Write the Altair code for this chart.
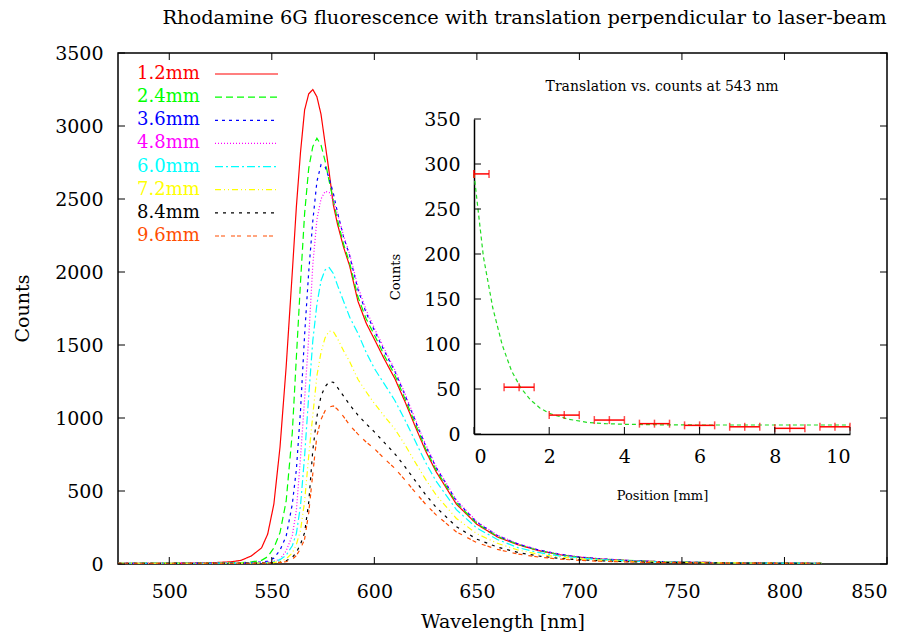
import altair as alt
import pandas as pd

# ---------------- data ----------------
series = ["1.2mm", "2.4mm", "3.6mm", "4.8mm", "6.0mm", "7.2mm", "8.4mm", "9.6mm"]
colors = ["#ff0000", "#00ff00", "#0000ff", "#ff00ff", "#00ffff", "#ffff00", "#000000", "#ff4d00"]
dashes = [[1, 0], [7, 4], [3, 4], [1, 2], [8, 3, 2, 3], [6, 3, 1, 3, 1, 3], [3, 5], [4, 2, 4, 6]]

wavelength = [475, 500, 520, 530, 535, 540, 545, 548, 551, 554,
              557, 560, 562, 564, 566, 568, 570, 572, 574, 576,
              578, 580, 582, 585, 588, 592, 596, 600, 605, 610,
              615, 620, 625, 630, 640, 650, 660, 670, 680, 690,
              700, 710, 720, 730, 740, 750, 760, 780, 800, 818]

c_12 = [5, 5, 8, 15, 25, 55, 110, 205, 410, 800,
        1350, 2000, 2450, 2820, 3110, 3220, 3250, 3200, 3080, 2880,
        2680, 2460, 2330, 2170, 2040, 1800, 1650, 1540, 1400, 1270,
        1110, 940, 775, 635, 410, 272, 185, 132, 92, 64,
        46, 34, 26, 20, 16, 13, 11, 8, 6, 5]
c_24 = [5, 6, 6, 8, 10, 14, 25, 50, 110, 215,
        430, 900, 1420, 1930, 2400, 2710, 2860, 2916, 2870, 2760,
        2620, 2490, 2360, 2190, 2060, 1830, 1680, 1570, 1425, 1295,
        1130, 960, 790, 648, 420, 278, 190, 135, 94, 66,
        47, 35, 27, 21, 16, 13, 11, 8, 6, 5]
c_36 = [5, 5, 6, 7, 8, 10, 14, 20, 40, 95,
        190, 410, 650, 1050, 1570, 2000, 2350, 2620, 2735, 2720,
        2640, 2540, 2410, 2240, 2110, 1880, 1720, 1600, 1455, 1320,
        1155, 980, 810, 665, 432, 286, 195, 138, 96, 68,
        48, 36, 27, 21, 16, 13, 11, 8, 6, 5]
c_48 = [5, 5, 6, 6, 7, 8, 10, 13, 20, 32,
        90, 195, 370, 730, 1130, 1550, 2050, 2360, 2500, 2552,
        2545, 2490, 2400, 2250, 2120, 1900, 1740, 1615, 1470, 1330,
        1165, 990, 820, 672, 438, 290, 198, 140, 97, 68,
        49, 36, 27, 21, 16, 13, 11, 8, 6, 5]
c_60 = [5, 5, 5, 6, 6, 7, 8, 10, 15, 30,
        60, 125, 210, 400, 740, 1150, 1530, 1780, 1940, 2015,
        2030, 1990, 1910, 1800, 1690, 1580, 1450, 1340, 1230, 1120,
        985, 840, 695, 570, 372, 246, 168, 112, 79, 56,
        41, 30, 23, 18, 14, 12, 10, 7, 6, 5]
c_72 = [5, 5, 5, 5, 6, 6, 7, 8, 10, 18,
        35, 75, 135, 230, 430, 740, 1020, 1290, 1450, 1550,
        1595, 1592, 1545, 1460, 1385, 1265, 1180, 1100, 1010, 925,
        815, 695, 580, 475, 312, 207, 142, 96, 67, 48,
        35, 26, 20, 16, 13, 11, 9, 7, 5, 5]
c_84 = [5, 5, 5, 5, 5, 6, 6, 7, 8, 12,
        22, 45, 80, 135, 215, 420, 780, 1010, 1150, 1215,
        1248, 1245, 1210, 1150, 1090, 1020, 960, 905, 830, 755,
        665, 570, 475, 390, 256, 170, 116, 79, 55, 39,
        29, 22, 17, 13, 11, 9, 8, 6, 5, 5]
c_96 = [5, 5, 5, 5, 5, 5, 6, 6, 7, 10,
        16, 32, 58, 105, 170, 350, 620, 880, 990, 1050,
        1075, 1082, 1060, 1010, 950, 890, 835, 790, 720, 655,
        575, 490, 410, 338, 220, 146, 100, 68, 48, 34,
        25, 19, 15, 12, 10, 8, 7, 6, 5, 5]
spectra = [c_12, c_24, c_36, c_48, c_60, c_72, c_84, c_96]

x_ticks = [500, 550, 600, 650, 700, 750, 800, 850]
y_ticks = [0, 500, 1000, 1500, 2000, 2500, 3000, 3500]

# inset: measured counts at 543 nm with x error
pos = [0.0, 1.2, 2.4, 3.6, 4.8, 6.0, 7.2, 8.4, 9.6]
pos_counts = [289, 52, 21, 15.5, 11.5, 9.6, 8, 6.3, 8]
pos_err = [0.4, 0.4, 0.4, 0.4, 0.4, 0.4, 0.4, 0.4, 0.4]
# inset: fitted curve
fit_pos = [0.0, 0.25, 0.5, 0.75, 1.0, 1.25, 1.5, 1.75, 2.0, 2.5, 3.0, 3.5, 4.0, 5.0, 6.0, 7.0, 8.0, 9.0, 10.0]
fit_counts = [289, 197, 140, 99, 70, 51, 38, 29, 23, 16.5, 13, 11.5, 10.8, 10.2, 10, 10, 10, 10, 10]
inset_x_ticks = [0, 2, 4, 6, 8, 10]
inset_y_ticks = [0, 50, 100, 150, 200, 250, 300, 350]

main_title = "Rhodamine 6G fluorescence with translation perpendicular to laser-beam"
inset_title = "Translation vs. counts at 543 nm"

# ---------------- tables ----------------
rows = []
for name, vals in zip(series, spectra):
    for w, c in zip(wavelength, vals):
        rows.append({"wavelength": w, "counts": c, "name": name})
df = pd.DataFrame(rows)

err_df = pd.DataFrame({"pos": pos, "counts": pos_counts,
                       "lo": [p - e for p, e in zip(pos, pos_err)],
                       "hi": [p + e for p, e in zip(pos, pos_err)]})
cap_df = pd.DataFrame({"pos": err_df["lo"].tolist() + err_df["hi"].tolist() + pos,
                       "counts": pos_counts * 3})
fit_df = pd.DataFrame({"pos": fit_pos, "counts": fit_counts})
leg_df = pd.DataFrame({"name": series})
xt_df = pd.DataFrame({"wavelength": x_ticks})
yt_df = pd.DataFrame({"counts": y_ticks})
ixt_df = pd.DataFrame({"pos": inset_x_ticks})
iyt_df = pd.DataFrame({"counts": inset_y_ticks})

# ---------------- geometry ----------------
W, H = 769, 511
FONT = "DejaVu Serif"
TK = 7  # tick length (pixels)
# inset plot rectangle inside the main plot area (pixels)
IX0, IX1, IY0, IY1 = 356, 732, 66, 381

color_enc = alt.Color("name:N", scale=alt.Scale(domain=series, range=colors), legend=None)
dash_enc = alt.StrokeDash("name:N", scale=alt.Scale(domain=series, range=dashes), legend=None)

xs = alt.Scale(domain=[475, 850], nice=False, zero=False)
ys = alt.Scale(domain=[0, 3500], nice=False, zero=False)

lines = alt.Chart(df).mark_line(strokeWidth=1.2, clip=True).encode(
    x=alt.X("wavelength:Q", scale=xs,
            axis=alt.Axis(orient="bottom", values=x_ticks, ticks=False, domain=False, grid=False,
                          format="d", labelPadding=18, labelFontSize=19, title="Wavelength [nm]",
                          titleFontSize=19, titleBaseline="alphabetic", titleY=63)),
    y=alt.Y("counts:Q", scale=ys,
            axis=alt.Axis(orient="left", values=y_ticks, ticks=False, domain=False, grid=False,
                          format="d", labelPadding=15, labelFontSize=19, title="Counts",
                          titleFontSize=19, titleBaseline="middle", titleX=-96, titleY=255)),
    color=color_enc,
    strokeDash=dash_enc,
)

rule_style = dict(color="black", strokeWidth=1)
tick_bottom = alt.Chart(xt_df).mark_rule(**rule_style).encode(
    x=alt.X("wavelength:Q", scale=xs, axis=None), y=alt.value(H), y2=alt.value(H - TK))
tick_top = alt.Chart(xt_df).mark_rule(**rule_style).encode(
    x=alt.X("wavelength:Q", scale=xs, axis=None), y=alt.value(0), y2=alt.value(TK))
tick_left = alt.Chart(yt_df).mark_rule(**rule_style).encode(
    y=alt.Y("counts:Q", scale=ys, axis=None), x=alt.value(0), x2=alt.value(TK))
tick_right = alt.Chart(yt_df).mark_rule(**rule_style).encode(
    y=alt.Y("counts:Q", scale=ys, axis=None), x=alt.value(W), x2=alt.value(W - TK))

main = alt.layer(lines, tick_bottom, tick_top, tick_left, tick_right).resolve_axis(
    x="independent", y="independent")

# ---------------- inset ----------------
ixs = alt.Scale(domain=[0, 10], range=[IX0, IX1], nice=False, zero=False, clamp=True)
iys = alt.Scale(domain=[0, 350], range=[IY1, IY0], nice=False, zero=False)

fit = alt.Chart(fit_df).mark_line(color="#22dd22", strokeDash=[4, 3], strokeWidth=1.2).encode(
    x=alt.X("pos:Q", scale=ixs,
            axis=alt.Axis(orient="bottom", offset=-(H - IY1), values=inset_x_ticks, ticks=False,
                          domain=False, grid=False, labelPadding=13, labelFontSize=19, format="d",
                          title="Position [mm]", titleFontSize=13, titleBaseline="alphabetic",
                          titleY=65)),
    y=alt.Y("counts:Q", scale=iys,
            axis=alt.Axis(orient="left", offset=-IX0, values=inset_y_ticks, ticks=False,
                          domain=False, grid=False, labelPadding=14, labelFontSize=19, format="d",
                          title="Counts", titleFontSize=13, titleBaseline="middle", titleX=-79)),
)
bars = alt.Chart(err_df).mark_rule(color="#ff0000", strokeWidth=1.5).encode(
    x=alt.X("lo:Q", scale=ixs,
            axis=alt.Axis(orient="top", offset=-IY1, values=inset_x_ticks, labels=False,
                          ticks=False, domain=True, domainWidth=1.5, domainColor="black",
                          grid=False, title=None)),
    x2="hi:Q",
    y=alt.Y("counts:Q", scale=iys,
            axis=alt.Axis(orient="right", offset=-(W - IX0), values=inset_y_ticks, labels=False,
                          ticks=False, domain=True, domainWidth=1.5, domainColor="black",
                          grid=False, title=None)),
)
caps = alt.Chart(cap_df).mark_tick(color="#ff0000", orient="vertical", size=8, thickness=1.5).encode(
    x=alt.X("pos:Q", scale=ixs, axis=None),
    y=alt.Y("counts:Q", scale=iys, axis=None),
)
itick_x = alt.Chart(ixt_df).mark_rule(**rule_style).encode(
    x=alt.X("pos:Q", scale=ixs, axis=None), y=alt.value(IY1), y2=alt.value(IY1 - TK))
itick_y = alt.Chart(iyt_df).mark_rule(**rule_style).encode(
    y=alt.Y("counts:Q", scale=iys, axis=None), x=alt.value(IX0), x2=alt.value(IX0 + TK))
ititle = alt.Chart(pd.DataFrame({"t": [inset_title]})).mark_text(
    fontSize=14, font=FONT, align="center", baseline="middle", color="black"
).encode(text="t:N", x=alt.value((IX0 + IX1) / 2), y=alt.value(34))

inset = alt.layer(fit, bars, caps, itick_x, itick_y, ititle).resolve_axis(
    x="independent", y="independent")

# ---------------- legend ----------------
ly = alt.Y("name:N", sort=series,
           scale=alt.Scale(type="point", domain=series, range=[21, 183], padding=0), axis=None)
leg_text = alt.Chart(leg_df).mark_text(align="left", baseline="middle", fontSize=18, font=FONT).encode(
    text="name:N", x=alt.value(19), y=ly, color=color_enc)
leg_line = alt.Chart(leg_df).mark_rule(strokeWidth=1.2).encode(
    x=alt.value(97), x2=alt.value(160), y=ly, color=color_enc, strokeDash=dash_enc)
legend = alt.layer(leg_text, leg_line)

chart = alt.layer(main, inset, legend).resolve_scale(
    x="independent", y="independent"
).properties(
    width=W, height=H,
    autosize=alt.AutoSizeParams(type="none"),
    padding={"left": 118, "top": 53, "right": 20, "bottom": 73},
    title=alt.Title(main_title, fontSize=19.4, font=FONT, fontWeight="normal", anchor="middle",
                    offset=16, dx=22, color="black"),
).configure(
    font=FONT, background="white"
).configure_view(
    stroke="black", strokeWidth=1.5
).configure_axis(
    labelFont=FONT, titleFont=FONT, labelColor="black", titleColor="black",
    titleFontWeight="normal"
)

chart.save("out.html", embed_options={"renderer": "svg", "actions": False})
